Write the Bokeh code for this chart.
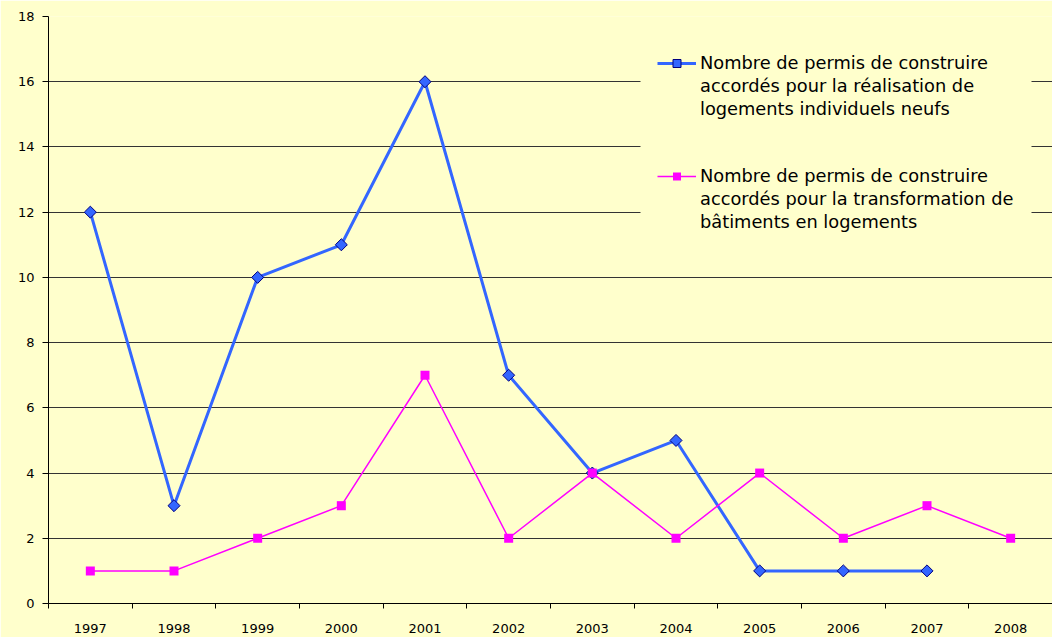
from bokeh.plotting import figure
from bokeh.models import Range1d, FixedTicker, Legend, LegendItem, BoxAnnotation
from bokeh.embed import file_html
from bokeh.resources import INLINE

years = ["1997", "1998", "1999", "2000", "2001", "2002", "2003", "2004", "2005", "2006", "2007", "2008"]
individuels = [12, 3, 10, 11, 16, 7, 4, 5, 1, 1, 1]
transformation = [1, 1, 2, 3, 7, 2, 4, 2, 4, 2, 3, 2]
y_ticks = [0, 2, 4, 6, 8, 10, 12, 14, 16, 18]
label_individuels = ["Nombre de permis de construire",
                     "accordés pour la réalisation de",
                     "logements individuels neufs"]
label_transformation = ["Nombre de permis de construire",
                        "accordés pour la transformation de",
                        "bâtiments en logements"]

BG = "#FFFFCC"
FONT = "DejaVu Sans"

p = figure(width=1052, height=637, output_backend="svg", toolbar_location=None,
           x_range=Range1d(0, len(years)), y_range=Range1d(0, 18),
           min_border_left=48, min_border_top=16, min_border_right=0, min_border_bottom=34)
p.background_fill_color = BG
p.border_fill_color = BG
p.outline_line_color = None

x_ind = [i + 0.5 for i in range(len(individuels))]
x_tr = [i + 0.5 for i in range(len(transformation))]

l1 = p.line(x_ind, individuels, line_color="#3366FF", line_width=3)
m1 = p.scatter(x_ind, individuels, marker="square", angle=0.785398, size=8.5,
               fill_color="#3366FF", line_color="#000080", line_width=1)
l2 = p.line(x_tr, transformation, line_color="#FF00FF", line_width=1.5)
m2 = p.scatter(x_tr, transformation, marker="square", size=9,
               fill_color="#FF00FF", line_color="#FF00FF", line_width=0)

# axes
p.yaxis.ticker = FixedTicker(ticks=y_ticks, minor_ticks=[])
p.xaxis.ticker = FixedTicker(ticks=[i + 0.5 for i in range(len(years))],
                             minor_ticks=list(range(len(years) + 1)))
p.xaxis.major_label_overrides = {i + 0.5: y for i, y in enumerate(years)}
for ax in (p.xaxis, p.yaxis):
    ax.axis_line_color = "black"
    ax.axis_line_width = 1
    ax.major_label_text_font = FONT
    ax.major_label_text_font_size = "13px"
    ax.major_label_text_color = "black"
p.yaxis.major_tick_in = 0
p.yaxis.major_tick_out = 6
p.yaxis.major_tick_line_color = "black"
p.yaxis.major_label_standoff = 8
p.yaxis.minor_tick_line_color = None
p.xaxis.major_tick_line_color = None
p.xaxis.minor_tick_in = 0
p.xaxis.minor_tick_out = 5
p.xaxis.minor_tick_line_color = "black"
p.xaxis.major_label_standoff = 14

p.xgrid.grid_line_color = None
p.ygrid.ticker = FixedTicker(ticks=y_ticks)
p.ygrid.grid_line_color = "#333333"
p.ygrid.grid_line_width = 1

# opaque area behind the legend (hides the grid lines there); screen units from frame
mask = BoxAnnotation(left=592, right=983, top=573, bottom=343,
                     left_units="screen", right_units="screen",
                     top_units="screen", bottom_units="screen",
                     fill_color=BG, fill_alpha=1, line_color=None)
p.add_layout(mask)

# one legend row per text line; the glyph sits on the first line of each entry
items = [LegendItem(label=label_individuels[0], renderers=[l1, m1])]
items += [LegendItem(label=t) for t in label_individuels[1:]]
items += [LegendItem(label=" "), LegendItem(label=" ")]
items += [LegendItem(label=label_transformation[0], renderers=[l2, m2])]
items += [LegendItem(label=t) for t in label_transformation[1:]]

legend = Legend(items=items, location=(609, 371))
legend.label_text_font = FONT
legend.label_text_font_size = "17.8px"
legend.label_text_color = "black"
legend.glyph_width = 39
legend.glyph_height = 20
legend.label_height = 20
legend.label_standoff = 4
legend.spacing = 2
legend.padding = 18
legend.margin = 0
legend.background_fill_alpha = 0
legend.border_line_color = None
p.add_layout(legend)

open("out.html", "w").write(file_html(p, INLINE))
